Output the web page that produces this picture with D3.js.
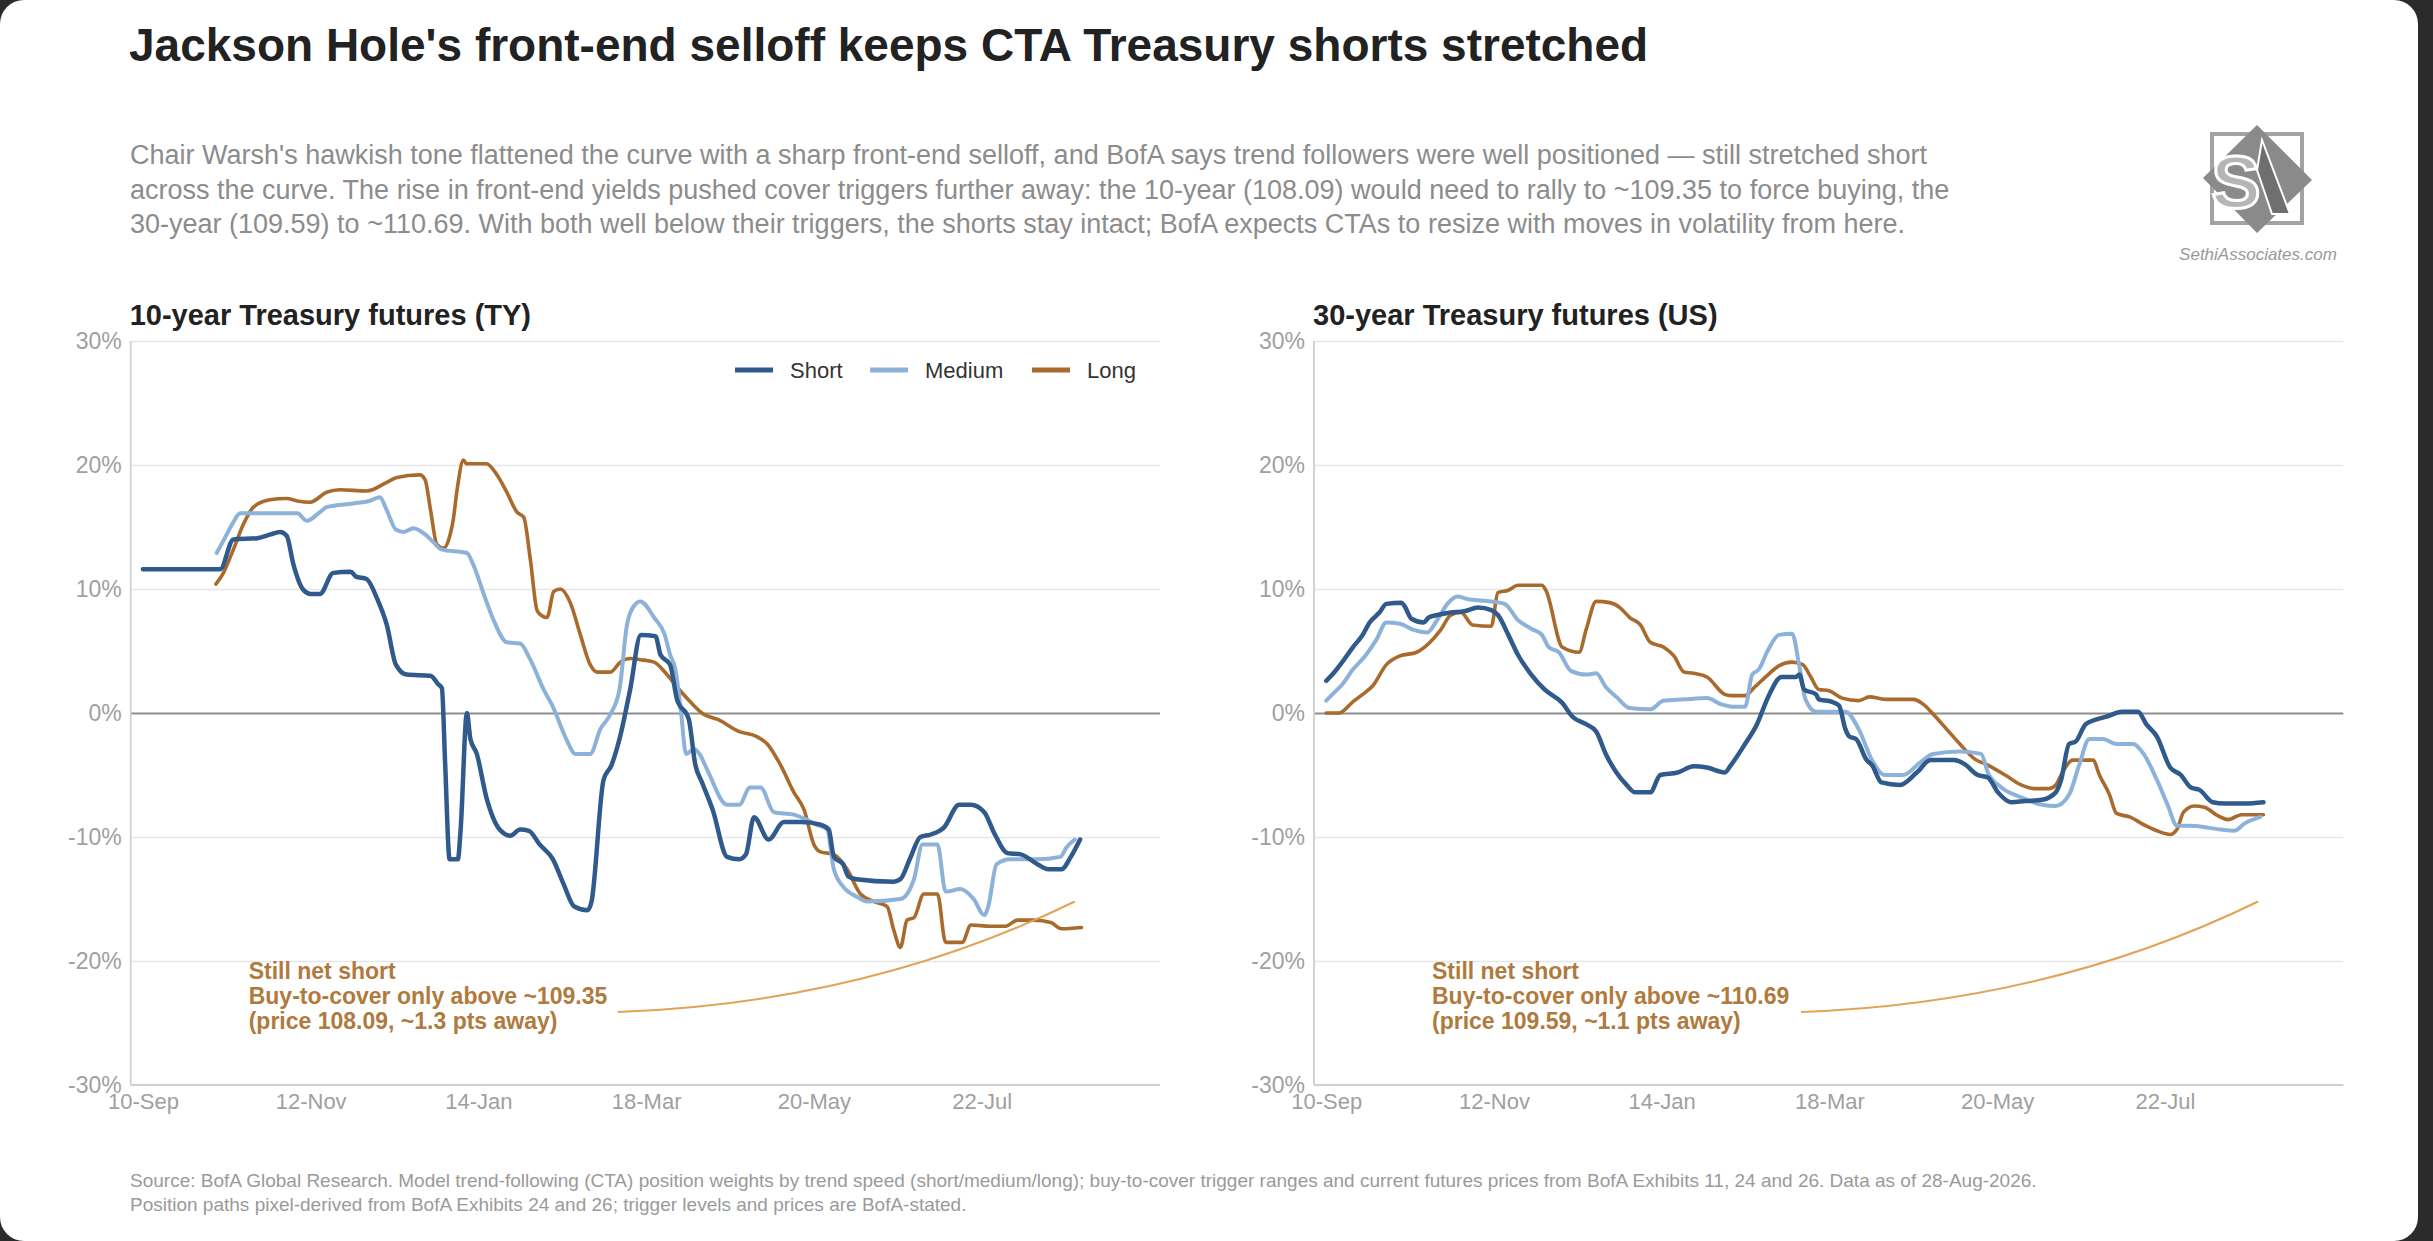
<!DOCTYPE html>
<html>
<head>
<meta charset="utf-8">
<script src="https://cdn.jsdelivr.net/npm/d3@7"></script>
<style>
  html, body { margin: 0; padding: 0; background: #2b2b2b; }
  svg { display: block; }
</style>
</head>
<body>
<svg id="chart" width="2433" height="1241"></svg>
<script>
// ---- data (x = days since 10-Sep-2025, y = position weight in %) ----
const startDate = new Date(2025, 8, 10);

const tyShort = [[0,11.6],[29,11.6],[34,14.0],[43,14.1],[48,14.4],[51.5,14.6],[54,14.3],[56.5,12.0],[60,10.0],[63,9.6],[66.5,9.6],[71.5,11.3],[78,11.4],[80,11.0],[84,10.8],[88,9.2],[91.6,7.1],[95,3.9],[99,3.1],[108,3.0],[111,2.3],[112.3,2.0],[113.5,-4.0],[115.2,-11.8],[118.3,-11.8],[119.3,-9.5],[121.7,0],[123,-2.1],[125.4,-3.3],[129,-6.8],[134,-9.4],[138,-9.9],[141.7,-9.4],[145,-9.5],[149,-10.6],[154,-11.8],[158,-13.8],[162,-15.6],[167,-15.9],[168.5,-15.2],[173,-5.4],[176,-4.2],[179,-2.1],[183,1.9],[187,6.3],[192.5,6.2],[194.4,4.7],[198,3.9],[200.6,1.1],[205,-0.5],[207.5,-4.2],[210,-5.6],[214,-7.8],[219.4,-11.6],[224,-11.8],[226.5,-11.4],[229.5,-8.4],[235,-10.2],[240.7,-8.8],[247,-8.8],[254.5,-9.0],[257.6,-9.4],[259.5,-11.6],[263,-12.2],[265,-13.2],[268,-13.4],[282,-13.6],[284.5,-13.4],[288,-11.8],[292,-10.0],[296,-9.8],[301,-9.2],[306.5,-7.4],[311,-7.4],[316,-8.0],[320,-9.8],[324.7,-11.3],[329.7,-11.4],[336,-12.2],[340,-12.6],[345,-12.6],[348.5,-11.6],[352,-10.2]];

const tyMedium = [[27.7,12.9],[30,13.8],[34,15.4],[36.5,16.1],[58,16.1],[61.5,15.5],[66.5,16.2],[69,16.6],[79,16.9],[85,17.1],[89,17.4],[91.5,16.4],[95,14.8],[98,14.6],[101.6,14.9],[106,14.4],[109,13.8],[112,13.2],[121.7,12.9],[124,12.0],[128,9.6],[131.7,7.5],[136.7,5.7],[141.7,5.6],[145.5,4.3],[150.5,1.9],[154,0.5],[159,-2.1],[162.4,-3.3],[168,-3.3],[171.8,-1.3],[175.6,-0.1],[179,1.9],[181.8,7.1],[184,8.5],[186.8,9.0],[192,7.7],[196,6.3],[198,4.7],[200,3.5],[202,0.3],[204,-3.3],[207,-2.9],[209,-3.3],[212,-4.6],[219.4,-7.4],[224,-7.4],[228,-6.0],[232,-6.0],[237,-8.0],[244.5,-8.2],[253,-9.0],[257,-9.4],[259.5,-12.6],[263,-14.0],[268,-14.8],[272,-15.2],[284.5,-15.0],[287,-14.6],[289.6,-13.4],[292.8,-10.6],[298.4,-10.6],[301.5,-14.4],[307,-14.2],[312,-15.0],[316,-16.3],[317.5,-15.6],[320.6,-12.2],[325.7,-11.8],[335.7,-11.8],[344.5,-11.6],[347,-10.8],[350,-10.2]];

const tyLong = [[27.4,10.4],[30,11.2],[34,13.2],[37.7,15.2],[41.5,16.6],[47.7,17.2],[54,17.3],[58,17.1],[62.8,17.0],[69,17.8],[74,18.0],[84,17.9],[91.6,18.6],[95.4,19.0],[104,19.2],[106,18.8],[108,16.4],[110.4,13.6],[113,13.3],[115.4,14.4],[116.5,15.5],[118,18.0],[120.4,20.4],[121.5,20.1],[129,20.1],[133,19.2],[136.7,17.8],[140.5,16.2],[143,15.8],[145.5,12.4],[148,8.3],[149.5,7.9],[151.8,7.7],[154.3,9.8],[156.8,10.0],[160.5,8.9],[164.3,6.3],[168,3.9],[170.6,3.3],[175.6,3.3],[179.3,4.1],[183,4.4],[186.8,4.3],[192,4.1],[196,3.3],[200.6,2.1],[205.6,0.9],[210.6,-0.1],[215.7,-0.5],[224,-1.5],[230.6,-1.9],[234.5,-2.5],[239.5,-4.2],[244.5,-6.4],[248.3,-7.8],[252,-10.6],[254.5,-11.2],[259.5,-11.4],[264.5,-12.6],[269.5,-14.6],[274.5,-15.2],[279.5,-15.6],[282,-17.5],[284.5,-18.9],[287,-16.7],[289.6,-16.5],[293.3,-14.6],[298.4,-14.6],[301.5,-18.5],[307.7,-18.5],[311,-17.1],[318.4,-17.2],[324,-17.2],[328.5,-16.7],[334.6,-16.7],[341,-16.9],[345,-17.4],[352.5,-17.3]];

const usShort = [[0,2.6],[2.3,3.1],[6,4.1],[10,5.3],[13.7,6.3],[16.3,7.3],[20,8.1],[22.6,8.8],[28.3,8.9],[29.5,8.6],[32,7.6],[36.6,7.3],[38.5,7.7],[41.7,7.9],[46.8,8.1],[51.8,8.2],[57,8.5],[62,8.3],[64.5,7.9],[68.4,6.3],[72,4.7],[77,3.1],[82,1.9],[88.7,0.8],[92.5,-0.3],[97.6,-0.9],[101.4,-1.5],[105,-3.3],[109,-4.8],[112.8,-5.8],[116,-6.4],[121.7,-6.4],[125.5,-5.0],[132,-4.8],[138,-4.3],[143,-4.4],[149.7,-4.8],[152,-4.2],[157.3,-2.5],[161.8,-0.9],[166,1.3],[171,2.9],[176.4,2.9],[177.7,3.1],[179.5,1.9],[184,1.5],[185,1.1],[190,0.9],[192.6,0.6],[195,-1.3],[196.5,-1.9],[199,-2.1],[203,-3.8],[205,-4.2],[208.5,-5.6],[215.5,-5.8],[221.8,-4.8],[227,-3.8],[235.8,-3.8],[239.6,-4.1],[244.7,-5.0],[248.5,-5.2],[252.3,-6.4],[257.4,-7.2],[262.5,-7.1],[268.8,-7.0],[274,-6.4],[276,-5.4],[279,-2.5],[281.5,-2.3],[285.3,-0.9],[293,-0.3],[299,0.1],[304.9,0.1],[308,-0.9],[312,-1.9],[317,-4.4],[321,-5.0],[324.7,-6.0],[328,-6.2],[333,-7.2],[337.4,-7.3],[345,-7.3],[352,-7.2]];

const usMedium = [[0,1.0],[2.3,1.5],[6,2.3],[10,3.5],[15,4.7],[18.8,5.9],[22.6,7.3],[27.7,7.2],[32.8,6.7],[37.9,6.5],[41.7,7.5],[45.5,8.8],[49.3,9.4],[53,9.2],[62,9.0],[67,8.8],[72,7.5],[77,6.8],[81,6.3],[83.6,5.3],[87.4,4.9],[91.9,3.4],[97.6,3.1],[101.4,3.2],[105,2.1],[109,1.3],[114,0.4],[121.7,0.3],[126.8,1.0],[134.4,1.1],[143,1.2],[148.4,0.7],[153.5,0.5],[157.3,0.5],[160,3.1],[162.4,3.5],[166,5.1],[170,6.3],[175,6.4],[177.6,3.9],[180,1.1],[184,0.1],[195,0.1],[200,-1.3],[205,-3.8],[209.7,-5.0],[216.7,-5.0],[223,-4.0],[228,-3.3],[238,-3.1],[246,-3.3],[248.5,-4.8],[253.6,-6.0],[261,-6.8],[268.8,-7.4],[274,-7.5],[279,-6.6],[282.8,-4.2],[286.6,-2.1],[291.7,-2.1],[296.8,-2.5],[303,-2.5],[307,-3.3],[312,-5.4],[316,-7.4],[319.6,-9.1],[324.7,-9.1],[336,-9.4],[341,-9.5],[345,-8.9],[350.7,-8.4]];

const usLong = [[0,0],[4.8,0],[10,0.9],[13.7,1.5],[17.5,2.2],[22.6,3.9],[27.7,4.6],[34,4.9],[39,5.7],[43,6.7],[46.8,7.9],[50.6,8.1],[55,7.1],[62,7.0],[64.5,9.7],[68.4,9.9],[72,10.3],[81,10.3],[82.5,9.9],[88.7,5.3],[95,4.9],[97.6,6.7],[101.4,9.0],[106.5,8.9],[110.3,8.5],[114,7.7],[118,7.1],[121.7,5.7],[126.8,5.3],[130.6,4.6],[134.4,3.3],[138,3.2],[143,2.9],[149.7,1.5],[152,1.4],[157.3,1.4],[161,2.1],[166,3.1],[170,3.8],[175,4.1],[179,3.9],[182,2.9],[185,1.9],[188.8,1.8],[193.8,1.2],[200,1.0],[204,1.3],[210,1.1],[220.5,1.1],[224.3,0.7],[228,-0.1],[233,-1.3],[238,-2.5],[243.5,-3.7],[248.5,-4.2],[255,-5.0],[261,-5.8],[266.3,-6.1],[271.4,-6.1],[274,-5.8],[277,-4.6],[280.3,-3.8],[288,-3.8],[290.4,-5.0],[294.2,-6.6],[296.8,-8.1],[302,-8.4],[307,-9.0],[312,-9.5],[317,-9.8],[319.5,-9.4],[322,-8.0],[326,-7.5],[329.8,-7.6],[335,-8.3],[338.7,-8.6],[343.8,-8.2],[352,-8.2]];

const seriesNames = ['Short', 'Medium', 'Long'];
const seriesColors = ['#2f5a8b', '#8db2da', '#a96a2c'];
const seriesWidths = [4.5, 4, 3.6];

const yTicks = [-30, -20, -10, 0, 10, 20, 30];
const xTickDates = ['2025-09-10', '2025-11-12', '2026-01-14', '2026-03-18', '2026-05-20', '2026-07-22'];
const xTickLabels = ['10-Sep', '12-Nov', '14-Jan', '18-Mar', '20-May', '22-Jul'];

const panelTitles = ['10-year Treasury futures (TY)', '30-year Treasury futures (US)'];
const noteLines = [
  ['Still net short', 'Buy-to-cover only above ~109.35', '(price 108.09, ~1.3 pts away)'],
  ['Still net short', 'Buy-to-cover only above ~110.69', '(price 109.59, ~1.1 pts away)']
];

const titleText = "Jackson Hole's front-end selloff keeps CTA Treasury shorts stretched";
const subtitleLines = [
  "Chair Warsh's hawkish tone flattened the curve with a sharp front-end selloff, and BofA says trend followers were well positioned \u2014 still stretched short",
  "across the curve. The rise in front-end yields pushed cover triggers further away: the 10-year (108.09) would need to rally to ~109.35 to force buying, the",
  "30-year (109.59) to ~110.69. With both well below their triggers, the shorts stay intact; BofA expects CTAs to resize with moves in volatility from here."
];
const footerLines = [
  "Source: BofA Global Research. Model trend-following (CTA) position weights by trend speed (short/medium/long); buy-to-cover trigger ranges and current futures prices from BofA Exhibits 11, 24 and 26. Data as of 28-Aug-2026.",
  "Position paths pixel-derived from BofA Exhibits 24 and 26; trigger levels and prices are BofA-stated."
];

// ---- layout ----
const W = 2433, H = 1241;
const FONT = '"Liberation Sans", Arial, Helvetica, sans-serif';
const plotW = 1029.3, plotTop = 341, plotBottom = 1085;
const panelLefts = [130.7, 1314];
const dayToDate = d => new Date(+startDate + d * 864e5);

const svg = d3.select('#chart').style('font-family', FONT);

svg.append('rect')
  .attr('width', 2418).attr('height', H).attr('rx', 24)
  .attr('fill', '#fff');

// title and subtitle
svg.append('text')
  .attr('x', 129).attr('y', 61)
  .attr('font-size', 46).attr('font-weight', 'bold')
  .attr('fill', '#222')
  .text(titleText);

svg.append('g').selectAll('text')
  .data(subtitleLines)
  .enter().append('text')
  .attr('x', 130)
  .attr('y', (d, i) => 164 + i * 34.5)
  .attr('font-size', 27)
  .attr('fill', '#8c8c8c')
  .text(d => d);

// logo
const logo = svg.append('g').attr('class', 'logo');
logo.append('rect')
  .attr('x', 2212).attr('y', 134).attr('width', 90).attr('height', 89)
  .attr('fill', 'none').attr('stroke', '#a3a3a3').attr('stroke-width', 4);
logo.append('path')
  .attr('d', 'M2257,125 L2312,180 L2257,233 L2203,178 Z')
  .attr('fill', '#8a8a8a');
logo.append('text')
  .attr('x', 2236).attr('y', 208)
  .attr('text-anchor', 'middle')
  .attr('font-size', 74).attr('font-weight', 'bold')
  .attr('fill', '#b5b5b5').attr('stroke', '#fff').attr('stroke-width', 3)
  .text('S');
logo.append('path')
  .attr('d', 'M2262,140 L2290,214 L2272,214 L2257,170 Z')
  .attr('fill', '#6f6f6f').attr('stroke', '#fff').attr('stroke-width', 2);
logo.append('text')
  .attr('x', 2258).attr('y', 260)
  .attr('text-anchor', 'middle')
  .attr('font-size', 17).attr('font-style', 'italic')
  .attr('fill', '#999')
  .text('SethiAssociates.com');

// footer
svg.append('g').selectAll('text')
  .data(footerLines)
  .enter().append('text')
  .attr('x', 130)
  .attr('y', (d, i) => 1187 + i * 24)
  .attr('font-size', 19)
  .attr('fill', '#9a9a9a')
  .text(d => d);

// ---- panels ----
const panels = [
  { left: panelLefts[0], title: panelTitles[0], data: [tyShort, tyMedium, tyLong], note: noteLines[0], legend: true },
  { left: panelLefts[1], title: panelTitles[1], data: [usShort, usMedium, usLong], note: noteLines[1], legend: false }
];

panels.forEach(drawPanel);

function drawPanel(p) {
  const left = p.left, right = p.left + plotW;

  const x = d3.scaleTime()
    .domain([new Date(2025, 8, 5, 10), new Date(2026, 8, 27)])
    .range([left, right]);
  const y = d3.scaleLinear().domain([-30, 30]).range([plotBottom, plotTop]);

  const g = svg.append('g');

  g.append('text')
    .attr('x', left - 1).attr('y', 325)
    .attr('font-size', 29).attr('font-weight', 'bold')
    .attr('fill', '#222')
    .text(p.title);

  // y axis with gridlines
  const yAxis = g.append('g')
    .attr('transform', `translate(${left},0)`)
    .call(d3.axisLeft(y)
      .tickValues(yTicks)
      .tickSize(-(right - left))
      .tickPadding(9)
      .tickFormat(d => d + '%'));
  yAxis.select('.domain').remove();
  yAxis.selectAll('.tick line')
    .attr('stroke', d => d === 0 ? '#8e8e8e' : '#e6e6e6')
    .attr('stroke-width', d => d === 0 ? 2.2 : 1.6);
  yAxis.selectAll('.tick text')
    .attr('font-family', FONT).attr('font-size', 23).attr('fill', '#a0a0a0');

  // axis frame lines
  g.append('line')
    .attr('x1', left).attr('x2', left).attr('y1', plotTop).attr('y2', plotBottom)
    .attr('stroke', '#d0d0d0').attr('stroke-width', 1.8);
  g.append('line')
    .attr('x1', left).attr('x2', right).attr('y1', plotBottom).attr('y2', plotBottom)
    .attr('stroke', '#d0d0d0').attr('stroke-width', 1.8);

  // x axis labels
  const xAxis = g.append('g')
    .attr('transform', `translate(0,${plotBottom})`)
    .call(d3.axisBottom(x)
      .tickValues(xTickDates.map(s => d3.timeParse('%Y-%m-%d')(s)))
      .tickSize(0)
      .tickPadding(8)
      .tickFormat((d, i) => xTickLabels[i]));
  xAxis.select('.domain').remove();
  xAxis.selectAll('.tick text')
    .attr('font-family', FONT).attr('font-size', 22).attr('fill', '#a0a0a0');

  // lines (long drawn first, short on top)
  const line = d3.line()
    .x(d => x(dayToDate(d[0])))
    .y(d => y(d[1]))
    .curve(d3.curveMonotoneX);

  [2, 1, 0].forEach(i => {
    g.append('path')
      .datum(p.data[i])
      .attr('fill', 'none')
      .attr('stroke', seriesColors[i])
      .attr('stroke-width', seriesWidths[i])
      .attr('stroke-linejoin', 'round')
      .attr('stroke-linecap', 'round')
      .attr('d', line);
  });

  // annotation
  const noteX = left + 118;
  g.append('g').selectAll('text')
    .data(p.note)
    .enter().append('text')
    .attr('x', noteX)
    .attr('y', (d, i) => 979 + i * 25)
    .attr('font-size', 23).attr('font-weight', 'bold')
    .attr('fill', '#b07a3d')
    .text(d => d);

  const p0 = [left + 487, 1012];
  const p2 = [x(dayToDate(350)), y(-15.2)];
  const c = [left + 736, 1003];
  g.append('path')
    .attr('d', `M${p0[0]},${p0[1]} Q${c[0]},${c[1]} ${p2[0]},${p2[1]}`)
    .attr('fill', 'none')
    .attr('stroke', '#e3a256')
    .attr('stroke-width', 2);

  // legend
  if (p.legend) {
    const legendX = [735, 870, 1032];
    const lg = g.append('g');
    seriesNames.forEach((name, i) => {
      lg.append('line')
        .attr('x1', legendX[i]).attr('x2', legendX[i] + 38)
        .attr('y1', 370).attr('y2', 370)
        .attr('stroke', seriesColors[i]).attr('stroke-width', 5);
      lg.append('text')
        .attr('x', legendX[i] + 55).attr('y', 378)
        .attr('font-size', 22)
        .attr('fill', '#333')
        .text(name);
    });
  }
}
</script>
</body>
</html>
